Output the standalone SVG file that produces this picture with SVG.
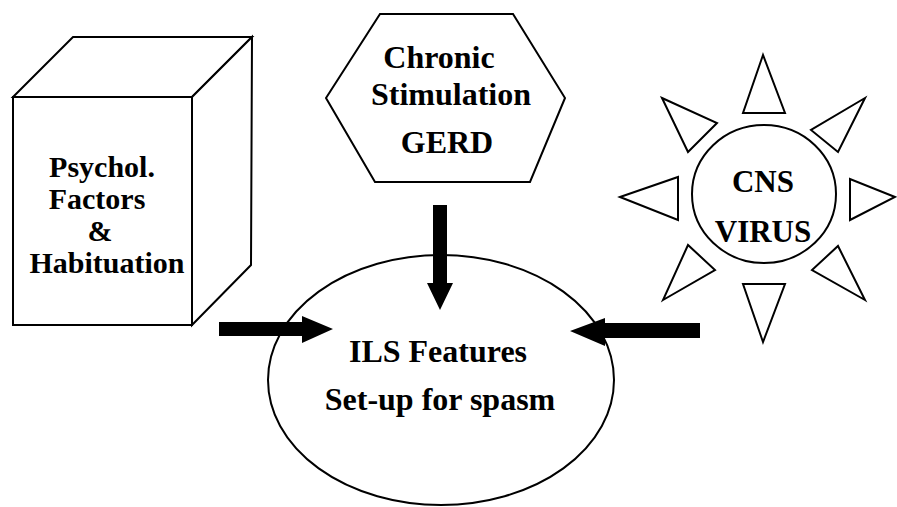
<svg xmlns="http://www.w3.org/2000/svg" width="897" height="507" viewBox="0 0 897 507">
<style>
.shape{fill:#fff;stroke:#000;stroke-width:2;stroke-linejoin:miter}
text{font-family:'Liberation Serif','Times New Roman','DejaVu Serif',serif;font-weight:700;fill:#000;text-anchor:middle}
.l32{font-size:32px}
.l31{font-size:31px}
.l30{font-size:30px}
.arrow{fill:#000;stroke:none}
</style>
<rect width="897" height="507" fill="#fff"/>
<g id="psych">
  <polygon class="shape" points="13,97 73,37 252,37 192,97"/>
  <polygon class="shape" points="192,97 252,37 251,265 192,325"/>
  <rect class="shape" x="13" y="97" width="179" height="228"/>
  <text class="l30" x="102" y="177">Psychol.</text>
  <text class="l30" x="97" y="209">Factors</text>
  <text class="l30" x="100" y="241">&amp;</text>
  <text class="l30" x="107" y="273">Habituation</text>
</g>
<g id="chronic">
  <polygon class="shape" points="326,98 380,14 513,14 565,98 530,182 375,182"/>
  <text class="l32" x="439" y="68">Chronic</text>
  <text class="l32" x="451" y="105">Stimulation</text>
  <text class="l32" x="447" y="153">GERD</text>
</g>
<g id="cns">
  <polygon class="shape" points="763,55 743,113 785,113"/>
  <polygon class="shape" points="865,98 811,130 838,152"/>
  <polygon class="shape" points="895,197 850,179 850,220"/>
  <polygon class="shape" points="865,300 812,270 838,246"/>
  <polygon class="shape" points="763,342 743,284 785,284"/>
  <polygon class="shape" points="663,300 715,270 688,245"/>
  <polygon class="shape" points="620,197 678,177 678,220"/>
  <polygon class="shape" points="662,98 717,123 688,152"/>
  <ellipse class="shape" cx="764" cy="194" rx="72" ry="69"/>
  <text class="l31" x="763" y="192">CNS</text>
  <text class="l31" x="763" y="242">VIRUS</text>
</g>
<g id="ils">
  <ellipse class="shape" cx="441" cy="380" rx="173" ry="125"/>
  <text class="l32" x="438" y="362">ILS Features</text>
  <text class="l32" x="440" y="410">Set-up for spasm</text>
</g>
<g id="connectors">
  <polygon class="arrow" points="433,205 447,205 447,283 453,283 440,310 427,283 433,283"/>
  <polygon class="arrow" points="219,322 302,322 302,316 333,329 302,343 302,336 219,336"/>
  <polygon class="arrow" points="700,323 605,323 605,318 570,331 605,346 605,338 700,338"/>
</g>
</svg>
